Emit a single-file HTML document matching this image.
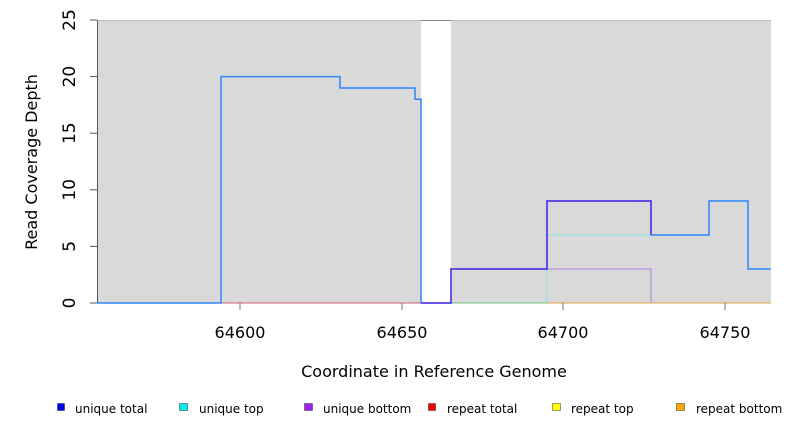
<!DOCTYPE html>
<html><head><style>
body{margin:0;background:#fff;width:792px;height:432px;overflow:hidden;font-family:"DejaVu Sans","Liberation Sans",sans-serif}
</style></head><body>
<svg width="792" height="432" xmlns="http://www.w3.org/2000/svg" font-family="DejaVu Sans, Liberation Sans, sans-serif">
<rect x="97" y="20" width="324" height="283" fill="#d9d9d9"/>
<rect x="451" y="20" width="320" height="283" fill="#d9d9d9"/>
<line x1="97" y1="20.5" x2="771" y2="20.5" stroke="#bbb" stroke-width="1"/>
<line x1="421" y1="20.5" x2="451" y2="20.5" stroke="#888" stroke-width="1"/>
<line x1="97.5" y1="20" x2="97.5" y2="303" stroke="#555" stroke-width="1"/>
<line x1="97" y1="303" x2="771" y2="303" stroke="#d06070" stroke-width="1"/>
<line x1="451" y1="303" x2="547" y2="303" stroke="#70c080" stroke-width="1"/>
<line x1="547" y1="303" x2="771" y2="303" stroke="#e0a040" stroke-width="1"/>
<polyline points="547,303 547,235 651,235" fill="none" stroke="#7fe6e6" stroke-width="1"/>
<polyline points="547,269 651,269 651,303" fill="none" stroke="#b080e0" stroke-width="1"/>
<polyline points="97,303 221,303 221,76.6 340,76.6 340,88 415,88 415,99.2 421,99.2 421,303" fill="none" stroke="#2f86ff" stroke-width="1.5"/>
<polyline points="421,303 451,303 451,269 547,269 547,201 651,201 651,235" fill="none" stroke="#3a1ee8" stroke-width="1.5"/>
<polyline points="651,235 709,235 709,201 748,201 748,269 771,269" fill="none" stroke="#2f86ff" stroke-width="1.5"/>
<g stroke="#555"><line x1="90" y1="303" x2="97" y2="303"/><line x1="90" y1="246.4" x2="97" y2="246.4"/><line x1="90" y1="189.8" x2="97" y2="189.8"/><line x1="90" y1="133.2" x2="97" y2="133.2"/><line x1="90" y1="76.6" x2="97" y2="76.6"/><line x1="90" y1="20" x2="97" y2="20"/></g>
<g font-size="17" fill="#000" text-anchor="middle">
<text transform="translate(75,303) rotate(-90)">0</text>
<text transform="translate(75,246.4) rotate(-90)">5</text>
<text transform="translate(75,189.8) rotate(-90)">10</text>
<text transform="translate(75,133.2) rotate(-90)">15</text>
<text transform="translate(75,76.6) rotate(-90)">20</text>
<text transform="translate(75,20) rotate(-90)">25</text>
<text transform="translate(37,162) rotate(-90)" font-size="16">Read Coverage Depth</text>
</g>
<g stroke="#777"><line x1="240" y1="303" x2="240" y2="310"/><line x1="402" y1="303" x2="402" y2="310"/><line x1="563" y1="303" x2="563" y2="310"/><line x1="725" y1="303" x2="725" y2="310"/></g>
<g font-size="16" fill="#000" text-anchor="middle">
<text x="240" y="338">64600</text><text x="402" y="338">64650</text><text x="563" y="338">64700</text><text x="725" y="338">64750</text>
<text x="434" y="377">Coordinate in Reference Genome</text>
</g>
<g stroke="#333" stroke-width="0.5">
<rect x="57.5" y="403.5" width="7" height="7" fill="#0000ee"/>
<rect x="179.5" y="403.5" width="8" height="7" fill="#00eeee"/>
<rect x="304.5" y="403.5" width="8" height="7" fill="#a020f0"/>
<rect x="428.5" y="403.5" width="7" height="7" fill="#ee0000"/>
<rect x="552.5" y="403.5" width="8" height="7" fill="#ffff00"/>
<rect x="676.5" y="403.5" width="8" height="7" fill="#ffa500"/>
</g>
<g font-size="12" fill="#000">
<text x="75" y="413">unique total</text>
<text x="199" y="413">unique top</text>
<text x="323" y="413">unique bottom</text>
<text x="447" y="413">repeat total</text>
<text x="571" y="413">repeat top</text>
<text x="696" y="413">repeat bottom</text>
</g>
</svg>
</body></html>
